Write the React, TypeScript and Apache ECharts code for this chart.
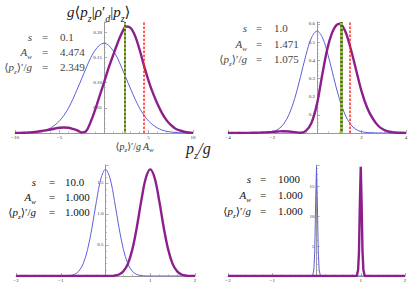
import React, { useEffect, useRef } from "react";
import * as echarts from "echarts";

// ---------- Data ----------
// Panel 1: s = 0.1
const p1X = [-10, -9.5, -9, -8.5, -8, -7.5, -7, -6.5, -6, -5.5, -5, -4.5, -4, -3.5, -3, -2.5, -2, -1.5, -1, -0.5, 0,
  0.5, 1, 1.5, 2, 2.5, 3, 3.5, 4, 4.5, 5, 5.5, 6, 6.5, 7, 7.5, 8, 8.5, 9, 9.5, 10];
const p1Blue = [0, 0.0001, 0.0003, 0.0005, 0.001, 0.002, 0.0035, 0.006, 0.01, 0.016, 0.024, 0.035, 0.049, 0.067, 0.087, 0.108, 0.129, 0.149, 0.164, 0.174, 0.178,
  0.174, 0.164, 0.149, 0.129, 0.108, 0.087, 0.067, 0.049, 0.035, 0.024, 0.016, 0.01, 0.006, 0.0035, 0.002, 0.001, 0.0005, 0.0003, 0.0001, 0];
const p1Mag = [0, 0.0002, 0.0005, 0.001, 0.0015, 0.0025, 0.004, 0.0055, 0.007, 0.009, 0.0105, 0.011, 0.0105, 0.008, 0.005, 0.0012, 0.004, 0.022, 0.046, 0.073, 0.1,
  0.128, 0.153, 0.177, 0.198, 0.211, 0.208, 0.192, 0.165, 0.133, 0.104, 0.079, 0.058, 0.04, 0.026, 0.016, 0.009, 0.005, 0.0025, 0.001, 0.0003];
const p1Mean = 2.349;
const p1Aw = 4.474;

// Panel 2: s = 1.0
const p2X = [-4, -3.75, -3.5, -3.25, -3, -2.75, -2.5, -2.25, -2, -1.75, -1.5, -1.25, -1, -0.75, -0.5, -0.25, 0,
  0.25, 0.5, 0.75, 1, 1.25, 1.5, 1.75, 2, 2.25, 2.5, 2.75, 3, 3.25, 3.5, 3.75, 4];
const p2Blue = [0, 0, 0, 0, 0, 0.0002, 0.0007, 0.0024, 0.0074, 0.02, 0.049, 0.104, 0.19, 0.305, 0.427, 0.523, 0.56,
  0.523, 0.427, 0.305, 0.19, 0.104, 0.049, 0.02, 0.0074, 0.0024, 0.0007, 0.0002, 0, 0, 0, 0, 0];
const p2Mag = [0, 0, 0.0002, 0.0004, 0.0008, 0.0015, 0.0025, 0.004, 0.006, 0.0085, 0.01, 0.0085, 0.005, 0.0015, 0.012, 0.055, 0.16,
  0.33, 0.48, 0.57, 0.6, 0.565, 0.47, 0.35, 0.23, 0.14, 0.08, 0.04, 0.018, 0.007, 0.003, 0.001, 0];
const p2Mean = 1.075;
const p2Aw = 1.471;

// Panel 3: s = 10.0
const p3X = [-2, -1.9, -1.8, -1.7, -1.6, -1.5, -1.4, -1.3, -1.2, -1.1, -1, -0.9, -0.8, -0.7, -0.6, -0.5, -0.4, -0.3, -0.2, -0.1, 0,
  0.1, 0.2, 0.3, 0.4, 0.5, 0.6, 0.7, 0.8, 0.9, 1, 1.1, 1.2, 1.3, 1.4, 1.5, 1.6, 1.7, 1.8, 1.9, 2];
const p3Blue = [0, 0, 0, 0, 0, 0, 0, 0, 0, 0, 0.0002, 0.0015, 0.0066, 0.024, 0.076, 0.196, 0.429, 0.787, 1.216, 1.577, 1.72,
  1.577, 1.216, 0.787, 0.429, 0.196, 0.076, 0.024, 0.0066, 0.0015, 0.0002, 0, 0, 0, 0, 0, 0, 0, 0, 0, 0];
const p3Mag = [0, 0, 0, 0, 0, 0, 0, 0, 0, 0, 0, 0, 0, 0, 0, 0, 0, 0, 0, 0, 0.0002,
  0.0015, 0.0066, 0.024, 0.076, 0.196, 0.429, 0.787, 1.216, 1.577, 1.72, 1.577, 1.216, 0.787, 0.429, 0.196, 0.076, 0.024, 0.0066, 0.0015, 0.0002];

// Panel 4: s = 1000
const p4BlueX = [-2, -0.09, -0.06, -0.04, -0.02, 0, 0.02, 0.04, 0.06, 0.09, 2];
const p4BlueY = [0, 0, 1, 4, 12, 18.2, 12, 4, 1, 0, 0];
const p4MagX = [-2, 0.91, 0.94, 0.96, 0.98, 1, 1.02, 1.04, 1.06, 1.09, 2];
const p4MagY = [0, 0, 1, 4, 12, 18.2, 12, 4, 1, 0, 0];

// Panel annotations
const sValues = ["0.1", "1.0", "10.0", "1000"];
const awValues = ["4.474", "1.471", "1.000", "1.000"];
const meanValues = ["2.349", "1.075", "1.000", "1.000"];

// ---------- Styling ----------
const SERIF = "'Liberation Serif', 'DejaVu Serif', serif";
const BLUE = "#5f5fdc";
const PURPLE = "#8c1f8c";
const AXIS = "#9a9a9a";

function pairs(xs: number[], ys: number[]) {
  return xs.map((x, i) => [x, ys[i]]);
}

function richStyles(size: number, color: string) {
  const lh = Math.round(size * 1.5);
  const ss = Math.round(size * 0.68);
  return {
    i: { fontSize: size, fontStyle: "italic", fontFamily: SERIF, fill: color, lineHeight: lh },
    n: { fontSize: size, fontFamily: SERIF, fill: color, lineHeight: lh },
    s: { fontSize: ss, fontStyle: "italic", fontFamily: SERIF, fill: color, lineHeight: ss, verticalAlign: "bottom" },
  };
}

function rtext(x: number, y: number, text: string, size: number, color: string, align: string) {
  return {
    type: "text",
    x,
    y,
    silent: true,
    style: {
      text,
      rich: richStyles(size, color),
      align,
      textAlign: align,
      verticalAlign: "middle",
      textVerticalAlign: "middle",
      fontFamily: SERIF,
      fontSize: size,
      fill: color,
    },
  };
}

const S_LABEL = "{i|s}";
const AW_LABEL = "{i|A}{s|w}";
const MEAN_LABEL = "{n|⟨}{i|p}{s|z}{n|⟩′/}{i|g}";

function fmtFactory(interval: number, dec: number) {
  return (v: number) => {
    if (Math.abs(v) < 1e-9) return "";
    const k = v / interval;
    if (Math.abs(k - Math.round(k)) > 1e-6) return "";
    const s = v.toFixed(dec);
    return s.replace("-", "−");
  };
}

const panels = [
  { left: 15, top: 22, width: 178, height: 111, xMin: -10, xMax: 10, xInt: 5, xMinor: 5, xDec: 0, yMax: 0.22, yInt: 0.05, yDec: 2, yMinor: 5 },
  { left: 228, top: 22, width: 178, height: 111, xMin: -4, xMax: 4, xInt: 2, xMinor: 4, xDec: 0, yMax: 0.61, yInt: 0.1, yDec: 1, yMinor: 5 },
  { left: 16, top: 165, width: 179, height: 111, xMin: -2, xMax: 2, xInt: 1, xMinor: 5, xDec: 0, yMax: 1.79, yInt: 0.5, yDec: 1, yMinor: 5 },
  { left: 228, top: 165, width: 177, height: 111, xMin: -2, xMax: 2, xInt: 1, xMinor: 5, xDec: 0, yMax: 18.5, yInt: 5, yDec: 0, yMinor: 5 },
];

// text block positions: [labelRight, eqCenter, valueLeft, row1, row2, row3, color]
const textBlocks: [number, number, number, number, number, number, string][] = [
  [32, 45, 60, 37, 52, 67, "#444"],
  [247, 259, 274, 28, 44, 59, "#444"],
  [36, 52, 65, 182, 197, 212, "#111"],
  [251, 263, 278, 179, 195, 211, "#111"],
];

export default function App() {
  const ref = useRef<HTMLDivElement>(null);

  useEffect(() => {
    if (!ref.current) return;
    const chart = echarts.init(ref.current, null, { renderer: "svg" });

    const grids = panels.map((p) => ({ left: p.left, top: p.top, width: p.width, height: p.height, containLabel: false, outerBoundsMode: "none" }));
    const xAxes = panels.map((p, k) => ({
      gridIndex: k,
      type: "value",
      min: p.xMin,
      max: p.xMax,
      interval: p.xInt,
      axisLine: { onZero: true, lineStyle: { color: AXIS, width: 1 } },
      axisTick: { show: true, inside: true, length: 3, lineStyle: { color: AXIS, width: 0.8 } },
      minorTick: { show: true, splitNumber: p.xMinor, length: 1.6, lineStyle: { color: AXIS, width: 0.6 } },
      splitLine: { show: false },
      axisLabel: { fontSize: 5, color: "#333", margin: 2, fontFamily: SERIF, formatter: fmtFactory(p.xInt, p.xDec) },
    }));
    // the vertical axis sits at x = 0: shift it inward from the grid's left edge
    const yAxes = panels.map((p, k) => ({
      gridIndex: k,
      type: "value",
      position: "left",
      offset: -(p.width * (0 - p.xMin)) / (p.xMax - p.xMin),
      min: 0,
      max: p.yMax,
      interval: p.yInt,
      axisLine: { show: true, onZero: false, lineStyle: { color: AXIS, width: 1 } },
      axisTick: { show: true, inside: true, length: 3, lineStyle: { color: AXIS, width: 0.8 } },
      minorTick: { show: true, splitNumber: p.yMinor, length: 1.6, lineStyle: { color: AXIS, width: 0.6 } },
      splitLine: { show: false },
      axisLabel: { fontSize: 5, color: "#333", margin: 2, fontFamily: SERIF, formatter: fmtFactory(p.yInt, p.yDec) },
    }));

    const blueData = [pairs(p1X, p1Blue), pairs(p2X, p2Blue), pairs(p3X, p3Blue), pairs(p4BlueX, p4BlueY)];
    const magData = [pairs(p1X, p1Mag), pairs(p2X, p2Mag), pairs(p3X, p3Mag), pairs(p4MagX, p4MagY)];

    const series: any[] = [];
    for (let k = 0; k < 4; k++) {
      const smooth = k < 3 ? 0.35 : false;
      series.push({
        type: "line",
        xAxisIndex: k,
        yAxisIndex: k,
        data: blueData[k],
        symbol: "none",
        smooth,
        lineStyle: { color: BLUE, width: 1 },
        z: 2,
      });
      series.push({
        type: "line",
        xAxisIndex: k,
        yAxisIndex: k,
        data: magData[k],
        symbol: "none",
        smooth,
        lineStyle: { color: PURPLE, width: 2.4 },
        z: 3,
      });
    }

    const vlines = [
      [p1Mean, p1Aw, 1.8],
      [p2Mean, p2Aw, 2.6],
    ];
    vlines.forEach(([mean, aw, gw], k) => {
      series.push({
        type: "line",
        xAxisIndex: k,
        yAxisIndex: k,
        data: [],
        z: 5,
        markLine: {
          silent: true,
          symbol: ["none", "none"],
          label: { show: false },
          animation: false,
          data: [
            { xAxis: mean, lineStyle: { color: "#4f5f1f", width: gw, type: "solid" } },
            { xAxis: mean, lineStyle: { color: "#9fd040", width: gw, type: [2, 2] } },
            { xAxis: aw, lineStyle: { color: "#ff2a2a", width: 1.5, type: [2.5, 1.5] } },
          ],
        },
      });
    });

    const graphics: any[] = [];
    textBlocks.forEach(([lr, eq, vl, r1, r2, r3, col], k) => {
      const size = 11;
      graphics.push(rtext(lr, r1, S_LABEL, size, col, "right"));
      graphics.push(rtext(lr, r2, AW_LABEL, size, col, "right"));
      graphics.push(rtext(lr, r3, MEAN_LABEL, size, col, "right"));
      graphics.push(rtext(eq, r1, "{n|=}", size, col, "center"));
      graphics.push(rtext(eq, r2, "{n|=}", size, col, "center"));
      graphics.push(rtext(eq, r3, "{n|=}", size, col, "center"));
      graphics.push(rtext(vl, r1, "{n|" + sValues[k] + "}", size, col, "left"));
      graphics.push(rtext(vl, r2, "{n|" + awValues[k] + "}", size, col, "left"));
      graphics.push(rtext(vl, r3, "{n|" + meanValues[k] + "}", size, col, "left"));
    });
    // Title and axis-side labels
    graphics.push(rtext(67, 12, "{i|g}{n|⟨}{i|p}{s|z}{n||}{i|ρ}{n|′}{s|d}{n||}{i|p}{s|z}{n|⟩}", 15, "#222", "left"));
    graphics.push(rtext(141, 146, MEAN_LABEL, 10, "#333", "right"));
    graphics.push(rtext(143, 146, AW_LABEL, 10, "#333", "left"));
    graphics.push(rtext(186, 148, "{i|p}{s|z}{i|/g}", 16, "#222", "left"));

    chart.setOption({
      animation: false,
      backgroundColor: "#ffffff",
      grid: grids,
      xAxis: xAxes,
      yAxis: yAxes,
      series,
      graphic: graphics,
    });

    return () => {
      chart.dispose();
    };
  }, []);

  return (
    <div
      ref={ref}
      style={{ position: "fixed", left: 0, top: 0, width: 416, height: 288, background: "#fff" }}
    />
  );
}
